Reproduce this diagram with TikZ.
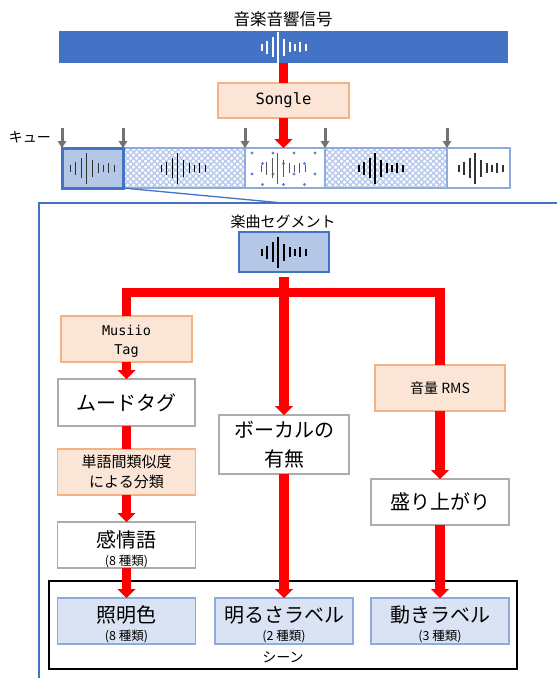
\documentclass[tikz,border=0pt]{standalone}
\usepackage{fontspec}
\setmainfont{Noto Sans CJK JP}
\newfontfamily\monof{DejaVu Sans Mono}
\usetikzlibrary{arrows.meta,patterns.meta}
\definecolor{bblue}{HTML}{4472C4}
\definecolor{lblue}{HTML}{B4C7E7}
\definecolor{pblue}{HTML}{DAE3F3}
\definecolor{eblue}{HTML}{8FAADC}
\definecolor{hblue}{HTML}{B7C9EC}
\definecolor{dblue}{HTML}{5B87D6}
\definecolor{peach}{HTML}{FBE5D6}
\definecolor{peachb}{HTML}{F4B183}
\definecolor{gbord}{HTML}{AFABAB}
\definecolor{cuegray}{HTML}{767171}
\begin{document}
\begin{tikzpicture}[x=1pt,y=-1pt,
  every node/.style={inner sep=0pt, outer sep=0pt},
  wave/.pic={\foreach \dx/\h in {-22/7,-17/13,-11/20,-6/31,0/17,6/10,11/7,16/10,22/7}
      \draw[line width=1.1pt] (\dx,-\h/2) -- (\dx,\h/2);},
  peachbox/.style={draw=peachb, fill=peach, line width=1.5pt},
  graybox/.style={draw=gbord, fill=white, line width=1.8pt},
  bluebox/.style={draw=eblue, fill=pblue, line width=1.8pt, minimum width=138pt, minimum height=46pt},
  segbase/.style={draw=eblue, line width=2pt, minimum height=40pt},
  hatchseg/.style={segbase, preaction={fill=white},
     preaction={pattern={Lines[angle=45,distance=4.2pt,line width=1.4pt]}, pattern color=hblue},
     preaction={pattern={Lines[angle=-45,distance=4.2pt,line width=1.4pt]}, pattern color=hblue}},
  dotseg/.style={segbase, preaction={fill=white},
     preaction={pattern={Dots[distance=21pt,radius=1.7pt]}, pattern color=dblue},
     preaction={pattern={Dots[distance=21pt,radius=1.7pt,xshift=10.5pt,yshift=10.5pt]}, pattern color=dblue}},
  redline/.style={red, line width=9.5pt, line join=miter},
  redarrow/.style={red, line width=9.5pt, -{Triangle[width=18pt,length=9pt,line width=0pt]}},
  cuearrow/.style={cuegray, line width=3pt, -{Triangle[width=9pt,length=7pt,line width=0pt]}},
  bigtxt/.style={font=\fontsize{20}{24}\selectfont},
  smalltxt/.style={font=\fontsize{12.5}{14}\selectfont}
]
\useasboundingbox (0,0) rectangle (557,678);

% top signal
\node[font=\fontsize{16.5}{19}\selectfont] (title) at (283,19.5) {音楽音響信号};
\node[fill=bblue, minimum width=449pt, minimum height=32pt] (sig) at (283.5,47) {};
\pic[color=white] at (284,47) {wave};

\node[peachbox, minimum width=131pt, minimum height=35pt, font=\monof\fontsize{15.5}{18}\selectfont] (songle) at (283.5,100.5) {Songle};

% strip of segments
\node[hatchseg, minimum width=122pt] (s2) at (184,168) {};
\node[dotseg, minimum width=80pt] (s3) at (285,168) {};
\node[hatchseg, minimum width=122pt] (s4) at (386,168) {};
\node[segbase, fill=white, minimum width=63pt] (s5) at (478.5,168) {};
\node[draw=bblue, fill=lblue, line width=3pt, minimum width=61pt, minimum height=40pt] (s1) at (92.5,168) {};
\pic[color=black!80] at (92.5,168) {wave};
\pic[color=black] at (183.5,168) {wave};
\pic[color=black!65] at (283.5,168) {wave};
\pic[color=black] at (381,168) {wave};
\pic[color=black!80] at (481,168) {wave};

\node[font=\fontsize{14}{16}\selectfont] (cue) at (30,137) {キュー};
\foreach \s in {s1,s2,s3,s4,s5}
  \draw[cuearrow] ([yshift=20pt]\s.north west) -- (\s.north west);

\draw[redline] (sig.south) -- (songle.north);
\draw[redarrow] (songle.south) -- (songle.south |- s3.north);

% zoom frame
\node[draw=bblue, line width=1.5pt, minimum width=560pt, minimum height=520pt, anchor=north west] (frame) at (39,203) {};
\coordinate (zoomend) at (283,203);
\draw[bblue, line width=1.3pt] (s1.south east) -- (zoomend);

\node[font=\fontsize{15}{18}\selectfont] (seglbl) at (283,222) {楽曲セグメント};
\node[fill=lblue, draw=bblue, line width=2.5pt, minimum width=90pt, minimum height=40pt] (segbox) at (284,252) {};
\pic[color=black] at (284,252) {wave};

% boxes
\node[peachbox, minimum width=131pt, minimum height=46pt] (musiio) at (126.5,339) {};
\node[font=\monof\fontsize{13.5}{16}\selectfont] (musiio1) at (126.5,330.5) {Musiio};
\node[font=\monof\fontsize{13.5}{16}\selectfont] (musiio2) at (126.5,351.5) {Tag};
\node[graybox, minimum width=137pt, minimum height=47pt, bigtxt] (mood) at (126.5,402.5) {ムードタグ};
\node[peachbox, minimum width=138pt, minimum height=46pt, align=center, font=\fontsize{15}{20}\selectfont] (tango) at (126.5,472) {単語間類似度\\による分類};
\node[graybox, minimum width=138pt, minimum height=46pt] (kanjo) at (126.5,545) {};
\node[bigtxt] (kanjot) at (126.5,540) {感情語};
\node[smalltxt] (kanjos) at (126.5,562) {(8 種類)};

\node[graybox, minimum width=130pt, minimum height=59pt, align=center, font=\fontsize{20}{29}\selectfont] (vocal) at (284,444.5) {ボーカルの\\有無};

\node[peachbox, minimum width=130pt, minimum height=46pt, font=\fontsize{14}{17}\selectfont] (rms) at (440,388) {音量 RMS};
\node[graybox, minimum width=138pt, minimum height=46pt, bigtxt] (mori) at (440,502) {盛り上がり};

% scene
\node[draw=black, line width=2pt, minimum width=468pt, minimum height=88pt] (scene) at (283,625) {};
\node[font=\fontsize{14}{16}\selectfont] (scenel) at (283,657) {シーン};
\node[bluebox] (shomei) at (126.5,621) {};
\node[bigtxt] (shomeit) at (126.5,615) {照明色};
\node[smalltxt] (shomeis) at (126.5,637) {(8 種類)};
\node[bluebox] (akarusa) at (284,621) {};
\node[bigtxt] (akarusat) at (284,615) {明るさラベル};
\node[smalltxt] (akarusas) at (284,637) {(2 種類)};
\node[bluebox] (ugoki) at (440,621) {};
\node[bigtxt] (ugokit) at (440,615) {動きラベル};
\node[smalltxt] (ugokis) at (440,637) {(3 種類)};

% red tree
\coordinate (jn) at (284,292.5);
\draw[redline] ([yshift=-5pt]segbox.south) -- (jn);
\draw[redline] (musiio.north) |- (jn) -| (rms.north);
\draw[redarrow] (jn) -- (vocal.north);
\draw[redarrow] (musiio.south) -- (mood.north);
\draw[redline] (mood.south) -- (tango.north);
\draw[redarrow] (tango.south) -- (kanjo.north);
\draw[redarrow] (kanjo.south) -- (shomei.north);
\draw[redarrow] (vocal.south) -- (akarusa.north);
\draw[redarrow] (rms.south) -- (mori.north);
\draw[redarrow] (mori.south) -- (ugoki.north);
\end{tikzpicture}
\end{document}
